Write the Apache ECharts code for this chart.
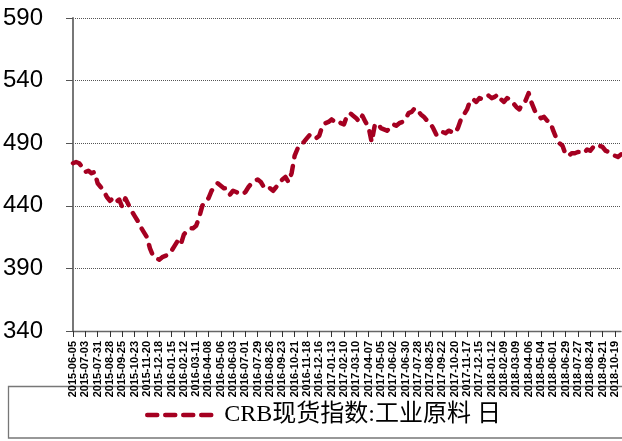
<!DOCTYPE html>
<html>
<head>
<meta charset="utf-8">
<script src="https://cdn.jsdelivr.net/npm/echarts@6/dist/echarts.min.js"></script>
<style>
  html, body { margin: 0; padding: 0; background: #fff; }
  #chart { width: 622px; height: 441px; }
</style>
</head>
<body>
<div id="chart"></div>
<script>
// CRB现货指数:工业原料 (weekly points)
const seriesName = 'CRB现货指数:工业原料 日';
const startDate = '2015-06-05';
const values = [
  474, 475, 474, 471, 467, 468, 466, 467, 458, 455,
  452, 447, 444, 446, 443, 445, 439, 446, 441, 436,
  432, 428, 423, 419, 415, 406, 400, 398, 397, 399,
  400, 401, 404, 408, 412, 409, 417, 420, 422, 422,
  424, 431, 440, 444, 446, 452, 455, 458, 456, 454,
  454, 449, 452, 451, 450, 449, 451, 455, 458, 460,
  461, 459, 455, 456, 454, 452, 455, 458, 461, 463,
  459, 466, 480, 486, 489, 491, 494, 497, 495, 494,
  496, 504, 506, 507, 509, 507, 508, 506, 505, 512,
  514, 512, 510, 507, 512, 507, 503, 491, 504, 506,
  502, 501, 500, 502, 505, 504, 506, 507, 509, 514,
  515, 518, 516, 513, 511, 508, 506, 502, 497, 496,
  499, 498, 500, 499, 498, 502, 509, 513, 517, 524,
  525, 523, 526, 525, 527, 528, 526, 527, 529, 525,
  523, 526, 525, 522, 519, 517, 522, 524, 530, 522,
  516, 512, 510, 511, 508, 507, 500, 494, 490, 488,
  481, 480, 482, 482, 483, 483, 482, 485, 484, 487,
  486, 488, 487, 484, 483, 482, 480, 479, 481
];
const yTicks = [340, 390, 440, 490, 540, 590];

// weekly dates for the category axis
const dates = [];
const d0 = new Date(startDate + 'T00:00:00Z');
for (let i = 0; i < values.length; i++) {
  const d = new Date(d0.getTime() + i * 7 * 86400000);
  dates.push(d.toISOString().slice(0, 10));
}

const chart = echarts.init(document.getElementById('chart'));

const option = {
  backgroundColor: '#fff',
  animation: false,
  grid: {
    left: 73,
    right: 1,
    top: 18,
    bottom: 110,
    containLabel: false,
    outerBoundsMode: 'none'
  },
  legend: {
    left: 140,
    top: 398,
    itemWidth: 72,
    itemHeight: 14,
    itemStyle: { color: 'transparent', borderWidth: 0, opacity: 0 },
    lineStyle: { color: '#a50021', width: 4.5, type: [10, 8], cap: 'round' },
    textStyle: {
      fontFamily: "'Liberation Serif', 'Noto Sans CJK SC', serif",
      fontSize: 24,
      color: '#000'
    },
    data: [seriesName]
  },
  graphic: [
    {
      type: 'rect',
      z: -1,
      shape: { x: 8.5, y: 386.5, width: 700, height: 51.5 },
      style: { fill: 'none', stroke: '#777', lineWidth: 1.3 }
    }
  ],
  xAxis: {
    type: 'category',
    data: dates,
    boundaryGap: false,
    axisLine: { lineStyle: { color: '#666', width: 1.3 } },
    axisTick: { show: true, interval: 3, length: 6, lineStyle: { color: '#333' } },
    axisLabel: {
      interval: 3,
      rotate: 90,
      margin: 10,
      fontSize: 11,
      fontWeight: 'bold',
      fontFamily: "'Liberation Sans', Arial, sans-serif",
      color: '#000'
    },
    splitLine: { show: false }
  },
  yAxis: {
    type: 'value',
    min: yTicks[0],
    max: yTicks[yTicks.length - 1],
    interval: 50,
    axisLine: { show: true, lineStyle: { color: '#777', width: 2 } },
    axisTick: { show: true, length: 7, lineStyle: { color: '#555' } },
    axisLabel: {
      margin: 30,
      fontSize: 24,
      fontFamily: "'Liberation Sans Narrow', 'Liberation Sans', Arial, sans-serif",
      color: '#000'
    },
    splitLine: { lineStyle: { color: '#555', type: 'dotted', width: 1 } }
  },
  series: [
    {
      name: seriesName,
      type: 'line',
      data: values,
      symbol: 'none',
      lineStyle: { color: '#a50021', width: 4.5, type: [9, 9], cap: 'round', join: 'round' },
      itemStyle: { color: '#a50021' }
    }
  ]
};

chart.setOption(option);
</script>
</body>
</html>
